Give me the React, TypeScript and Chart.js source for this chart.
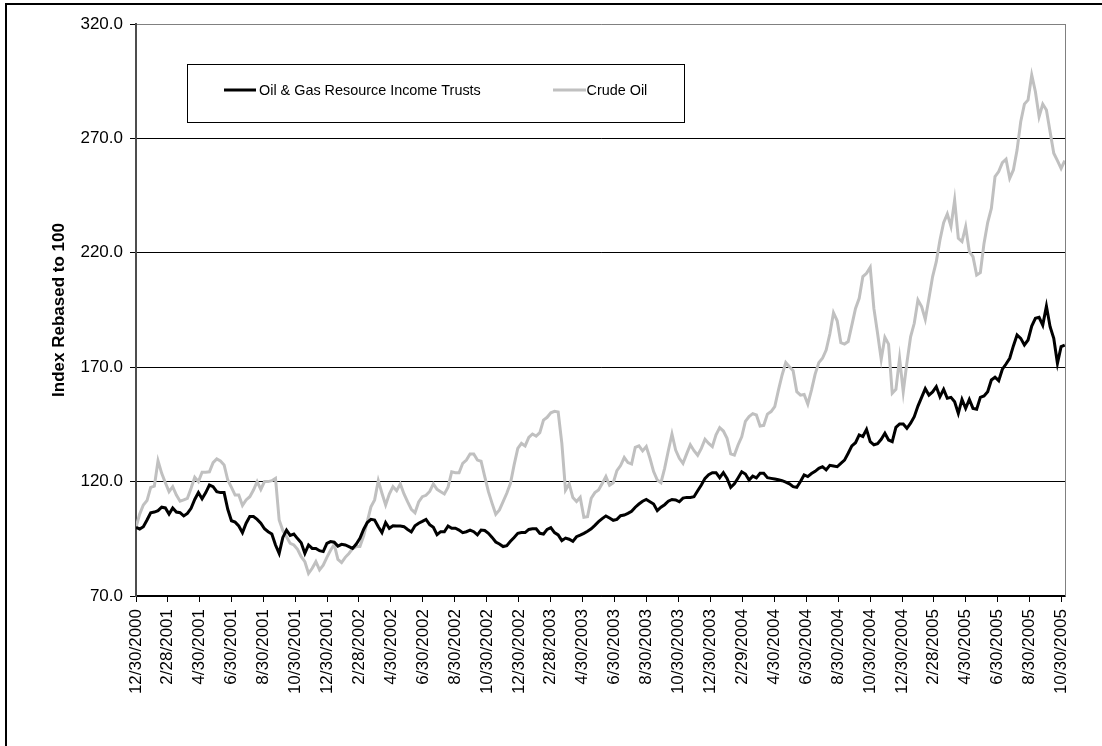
import React, { useEffect, useRef } from 'react';
import { Chart, registerables } from 'chart.js';

Chart.register(...registerables);

const START_UTC = Date.UTC(2000, 11, 30);
const MS_PER_DAY = 86400000;
const DAYS_PER_POINT = 7; // weekly observations starting 12/30/2000

const seriesNames = ['Oil & Gas Resource Income Trusts', 'Crude Oil'];
const yTitle = 'Index Rebased to 100';

const tickLabels = [
  '12/30/2000', '2/28/2001', '4/30/2001', '6/30/2001', '8/30/2001', '10/30/2001',
  '12/30/2001', '2/28/2002', '4/30/2002', '6/30/2002', '8/30/2002', '10/30/2002',
  '12/30/2002', '2/28/2003', '4/30/2003', '6/30/2003', '8/30/2003', '10/30/2003',
  '12/30/2003', '2/29/2004', '4/30/2004', '6/30/2004', '8/30/2004', '10/30/2004',
  '12/30/2004', '2/28/2005', '4/30/2005', '6/30/2005', '8/30/2005', '10/30/2005',
];

const yTicks = [70, 120, 170, 220, 270, 320];

const trustValues = [
  100.0, 99.3, 100.3, 103.2, 106.4, 106.7, 107.3, 108.8, 108.5, 105.8,
  108.5, 106.7, 106.4, 105.0, 106.1, 108.3, 112.2, 115.2, 112.5, 115.2,
  118.5, 117.8, 115.6, 115.2, 115.2, 107.9, 102.9, 102.3, 100.6, 97.7,
  101.8, 104.7, 104.7, 103.5, 101.8, 99.4, 98.1, 97.1, 92.3, 88.6,
  95.6, 98.8, 96.5, 97.1, 95.1, 93.3, 88.6, 92.3, 90.8, 90.8,
  89.8, 89.4, 93.0, 93.8, 93.5, 91.8, 92.6, 92.3, 91.6, 90.8,
  92.7, 95.2, 99.1, 102.1, 103.5, 103.2, 100.3, 97.7, 102.1, 99.6,
  100.7, 100.6, 100.6, 100.3, 99.1, 98.0, 100.7, 101.8, 102.6, 103.5,
  101.2, 100.0, 96.8, 98.1, 98.1, 100.6, 99.6, 99.6, 98.8, 97.7,
  98.1, 98.8, 98.1, 96.7, 98.8, 98.6, 97.4, 95.6, 93.6, 92.7,
  91.6, 92.0, 93.9, 95.6, 97.4, 97.7, 97.7, 99.1, 99.4, 99.4,
  97.4, 97.1, 99.1, 99.9, 97.7, 96.7, 94.2, 95.3, 94.8, 93.9,
  95.9, 96.6, 97.4, 98.3, 99.4, 100.9, 102.5, 103.8, 105.0, 104.1,
  103.1, 103.5, 105.1, 105.4, 106.1, 107.0, 108.8, 110.2, 111.4, 112.2,
  111.2, 110.2, 107.3, 108.8, 109.9, 111.4, 112.2, 112.0, 111.2, 112.8,
  113.1, 113.1, 113.4, 116.0, 118.5, 121.4, 123.0, 123.9, 123.9, 121.7,
  123.9, 121.4, 117.5, 119.0, 121.6, 124.3, 123.3, 120.7, 122.4, 121.6,
  123.6, 123.6, 121.7, 121.4, 121.1, 120.8, 120.4, 119.8, 119.0, 117.8,
  117.5, 120.0, 122.9, 122.2, 123.5, 124.5, 125.8, 126.5, 125.1, 127.1,
  126.8, 126.5, 128.0, 129.4, 132.4, 135.6, 137.0, 140.4, 139.7, 142.8,
  137.5, 136.1, 136.6, 138.5, 141.1, 138.2, 137.5, 143.7, 145.2, 145.2,
  143.3, 145.5, 148.4, 153.0, 156.8, 160.6, 157.8, 159.2, 161.5, 157.1,
  160.3, 156.4, 156.8, 154.9, 149.8, 155.9, 152.0, 155.9, 152.0, 151.6,
  156.8, 157.4, 159.3, 164.4, 165.6, 164.1, 169.1, 171.4, 173.9, 179.3,
  184.1, 182.6, 179.7, 181.9, 188.0, 191.4, 191.8, 188.4, 196.7, 187.7,
  182.6, 171.7, 179.0, 179.7,
];

const crudeValues = [
  100.0, 105.8, 109.8, 111.7, 117.5, 118.0, 129.1, 123.6, 119.5, 115.6,
  117.8, 114.1, 111.4, 112.0, 112.7, 117.1, 121.9, 120.0, 124.1, 124.1,
  124.3, 128.3, 129.9, 129.0, 127.3, 120.7, 117.5, 114.1, 114.1, 109.6,
  112.0, 113.4, 116.3, 120.0, 116.6, 120.0, 120.0, 120.4, 121.4, 103.2,
  98.6, 95.9, 93.0, 92.3, 90.4, 87.2, 85.0, 79.9, 82.1, 85.0,
  81.4, 83.5, 86.9, 90.0, 92.5, 86.0, 84.6, 86.9, 88.6, 90.7,
  91.6, 91.6, 96.2, 102.5, 109.0, 112.0, 120.4, 114.9, 109.8, 114.6,
  117.8, 116.0, 119.0, 114.6, 111.1, 107.9, 106.4, 111.1, 113.4, 114.0,
  115.7, 119.0, 116.6, 115.6, 114.6, 117.5, 124.3, 123.9, 123.9, 128.0,
  129.4, 132.1, 132.1, 129.4, 128.9, 122.2, 115.6, 110.5, 105.7, 107.6,
  111.2, 114.9, 119.2, 127.3, 134.5, 136.7, 135.6, 139.3, 140.8, 139.9,
  141.4, 146.9, 148.1, 150.1, 150.7, 150.4, 136.7, 116.3, 119.0, 113.0,
  111.3, 113.1, 104.4, 104.7, 112.7, 115.2, 116.3, 119.2, 122.2, 118.4,
  119.5, 124.8, 127.0, 130.5, 128.3, 127.7, 135.0, 135.6, 133.4, 135.3,
  130.2, 124.4, 120.7, 119.5, 125.8, 133.5, 140.8, 133.8, 130.2, 128.0,
  132.1, 136.1, 133.5, 131.5, 134.5, 138.5, 136.7, 135.3, 140.4, 143.6,
  142.1, 138.9, 132.1, 131.6, 136.0, 139.6, 146.3, 148.4, 149.7, 149.1,
  144.3, 144.6, 149.5, 150.6, 152.8, 160.0, 166.6, 172.0, 170.2, 168.5,
  159.3, 157.8, 158.1, 153.9, 160.0, 167.0, 172.0, 173.9, 177.5, 184.5,
  193.8, 190.3, 180.7, 180.1, 181.2, 188.4, 195.7, 200.1, 209.6, 211.0,
  213.6, 195.7, 184.8, 173.4, 183.1, 180.1, 158.6, 160.3, 173.9, 159.3,
  172.0, 183.3, 189.2, 199.4, 196.5, 190.9, 200.1, 209.6, 216.1, 225.6,
  233.2, 237.0, 231.5, 243.0, 226.3, 224.9, 231.4, 220.5, 218.3, 210.3,
  211.3, 224.1, 233.2, 239.4, 253.3, 255.5, 259.4, 260.9, 252.6, 256.2,
  264.9, 277.3, 285.0, 286.8, 297.7, 290.4, 279.5, 285.0, 282.4, 272.9,
  263.5, 260.3, 256.9, 260.3,
];

const FONT = 'Arial, "Liberation Sans", Helvetica, sans-serif';

function labelToDay(s: string): number {
  const [m, d, y] = s.split('/').map(Number);
  return Math.round((Date.UTC(y, m - 1, d) - START_UTC) / MS_PER_DAY);
}

const tickDays = tickLabels.map(labelToDay);
const dayToLabel = new Map<number, string>(tickDays.map((d, i) => [d, tickLabels[i]]));

const toPoints = (vals: number[]) => vals.map((v, i) => ({ x: i * DAYS_PER_POINT, y: v }));

const framePlugin = {
  id: 'frameAndLegend',
  beforeDraw(chart: any) {
    const ctx = chart.ctx;
    ctx.save();
    ctx.fillStyle = '#ffffff';
    ctx.fillRect(0, 0, chart.width, chart.height);
    ctx.restore();
  },
  afterDraw(chart: any) {
    const ctx = chart.ctx;
    const area = chart.chartArea;
    ctx.save();
    // plot area border (top/right)
    ctx.strokeStyle = '#808080';
    ctx.lineWidth = 1;
    ctx.beginPath();
    ctx.moveTo(Math.round(area.right) + 0.5, area.top);
    ctx.lineTo(Math.round(area.right) + 0.5, area.bottom);
    ctx.stroke();

    // outer chart frame
    ctx.strokeStyle = '#000000';
    ctx.lineWidth = 2;
    ctx.strokeRect(6, 4, chart.width + 20, chart.height + 20);

    // legend
    const bx = 187.5, by = 64.5, bw = 497, bh = 58;
    ctx.strokeStyle = '#000000';
    ctx.lineWidth = 1;
    ctx.strokeRect(bx, by, bw, bh);
    const ds = chart.data.datasets;
    const items = [
      { x0: 224, x1: 256, tx: 259 },
      { x0: 553, x1: 586, tx: 586.5 },
    ];
    ctx.font = `14.4px ${FONT}`;
    ctx.textBaseline = 'alphabetic';
    ctx.textAlign = 'left';
    items.forEach((it, i) => {
      ctx.strokeStyle = ds[i].borderColor;
      ctx.lineWidth = 3;
      ctx.beginPath();
      ctx.moveTo(it.x0, 90);
      ctx.lineTo(it.x1, 90);
      ctx.stroke();
      ctx.fillStyle = '#000000';
      ctx.fillText(ds[i].label, it.tx, 95);
    });
    ctx.restore();
  },
};

export default function App() {
  const canvasRef = useRef<HTMLCanvasElement | null>(null);

  useEffect(() => {
    if (!canvasRef.current) return;
    const chart = new Chart(canvasRef.current, {
      type: 'line',
      data: {
        datasets: [
          {
            label: seriesNames[0],
            data: toPoints(trustValues),
            borderColor: '#000000',
            borderWidth: 3,
            pointRadius: 0,
            tension: 0,
            fill: false,
          },
          {
            label: seriesNames[1],
            data: toPoints(crudeValues),
            borderColor: '#c0c0c0',
            borderWidth: 3,
            pointRadius: 0,
            tension: 0,
            fill: false,
          },
        ],
      },
      options: {
        responsive: false,
        animation: false,
        events: [],
        layout: { padding: { left: 0, top: 24, right: 36.7, bottom: 0 } },
        plugins: {
          legend: { display: false },
          tooltip: { enabled: false },
          title: { display: false },
        },
        scales: {
          x: {
            type: 'linear',
            min: 0,
            max: 1772,
            offset: false,
            afterBuildTicks: (scale: any) => {
              scale.ticks = tickDays.map((d) => ({ value: d }));
            },
            afterFit: (scale: any) => {
              scale.height = 150;
            },
            ticks: {
              autoSkip: false,
              minRotation: 90,
              maxRotation: 90,
              padding: 7,
              color: '#000000',
              font: { family: FONT, size: 17 },
              callback: (v: any) => dayToLabel.get(Number(v)) ?? '',
            },
            grid: {
              drawOnChartArea: false,
              drawTicks: true,
              tickLength: 6,
              tickColor: '#000000',
            },
            border: { display: true, color: '#000000', width: 1.5 },
          },
          y: {
            type: 'linear',
            min: 70,
            max: 320,
            afterBuildTicks: (scale: any) => {
              scale.ticks = yTicks.map((v) => ({ value: v }));
            },
            afterFit: (scale: any) => {
              scale.width = 136;
            },
            ticks: {
              padding: 7,
              color: '#000000',
              font: { family: FONT, size: 17 },
              callback: (v: any) => Number(v).toFixed(1),
            },
            grid: {
              color: (c: any) => (c.tick && c.tick.value === 320 ? '#808080' : '#000000'),
              lineWidth: 1,
              drawTicks: true,
              tickLength: 6,
              tickColor: '#000000',
            },
            border: { display: true, color: '#4d4d4d', width: 2 },
            title: {
              display: true,
              text: yTitle,
              color: '#000000',
              font: { family: FONT, size: 17, weight: 'bold' },
              padding: { top: 49, bottom: 0 },
            },
          },
        },
      },
      plugins: [framePlugin],
    } as any);
    return () => chart.destroy();
  }, []);

  return (
    <div style={{ position: 'fixed', left: 0, top: 0, width: 1102, height: 746, background: '#fff' }}>
      <canvas ref={canvasRef} width={1102} height={746} style={{ display: 'block' }} />
    </div>
  );
}
